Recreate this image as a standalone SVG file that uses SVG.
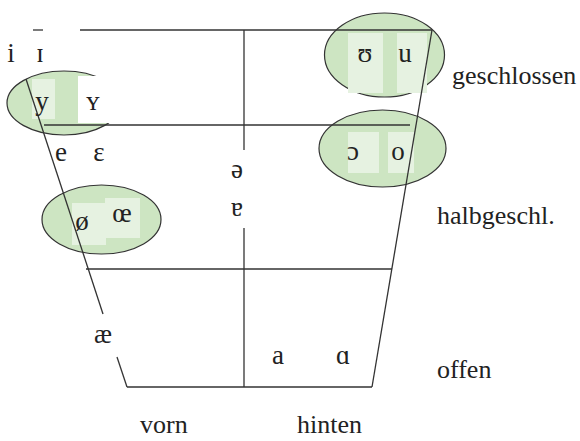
<svg xmlns="http://www.w3.org/2000/svg" width="580" height="441" viewBox="0 0 580 441">
<style>
.bg{fill:#ffffff}
.ell{fill:#cde5c2;stroke:#333333;stroke-width:1.2}
.sq{fill:#e6f2e1}
.ln{stroke:#333333;stroke-width:1.3;fill:none}
.t{font-family:"Liberation Serif","Times New Roman","DejaVu Serif",serif;font-size:26px;fill:#222222}
.ipa{font-family:"Liberation Serif","Times New Roman","DejaVu Serif",serif;font-size:27px;fill:#222222;text-anchor:middle}
</style>
<rect class="bg" x="0" y="0" width="580" height="441"/>
<g id="ellipse-y">
  <ellipse class="ell" cx="64" cy="103" rx="57" ry="32"/>
  <rect class="sq" x="32" y="79" width="23" height="40"/>
  <rect class="bg" x="78" y="76" width="50" height="47"/>
</g>
<g id="ellipse-u">
  <ellipse class="ell" cx="384.5" cy="55" rx="60" ry="42"/>
  <rect class="sq" x="348" y="33" width="35" height="60"/>
  <rect class="sq" x="397" y="33" width="30" height="60"/>
</g>
<g id="ellipse-o">
  <ellipse class="ell" cx="382.5" cy="148.5" rx="63.5" ry="38.5"/>
  <rect class="sq" x="348" y="132" width="31" height="41"/>
  <rect class="sq" x="388" y="132" width="26" height="41"/>
</g>
<g id="ellipse-oe">
  <ellipse class="ell" cx="101.5" cy="219.5" rx="59.5" ry="34.5"/>
  <rect class="sq" x="72" y="203" width="34" height="42"/>
  <rect class="sq" x="105" y="198" width="35" height="40"/>
</g>
<g id="connectors">
  <line class="ln" x1="33" y1="30" x2="43" y2="30"/>
  <line class="ln" x1="80" y1="30" x2="432" y2="30"/>
  <line class="ln" x1="44" y1="125" x2="410" y2="125"/>
  <line class="ln" x1="86" y1="269" x2="392" y2="269"/>
  <line class="ln" x1="127" y1="387" x2="372" y2="387"/>
  <line class="ln" x1="432" y1="30" x2="372" y2="387"/>
  <line class="ln" x1="26" y1="79" x2="103" y2="314"/>
  <line class="ln" x1="117" y1="357" x2="127" y2="387"/>
  <line class="ln" x1="244" y1="30" x2="244" y2="150"/>
  <line class="ln" x1="244" y1="228" x2="244" y2="387"/>
</g>
<g id="vowels">
  <text class="ipa" x="11" y="62">i</text>
  <text class="ipa" x="40" y="62">ɪ</text>
  <text class="ipa" x="42" y="110">y</text>
  <text class="ipa" x="93" y="110">ʏ</text>
  <text class="ipa" x="61" y="161">e</text>
  <text class="ipa" x="99" y="161">ɛ</text>
  <text class="ipa" x="237" y="178">ə</text>
  <text class="ipa" x="237" y="216">ɐ</text>
  <text class="ipa" x="82" y="230">ø</text>
  <text class="ipa" x="122" y="222">œ</text>
  <text class="ipa" x="365" y="62">ʊ</text>
  <text class="ipa" x="405" y="62">u</text>
  <text class="ipa" x="353" y="160">ɔ</text>
  <text class="ipa" x="398" y="160">o</text>
  <text class="ipa" x="103" y="343">æ</text>
  <text class="ipa" x="278" y="364">a</text>
  <text class="ipa" x="343" y="364">ɑ</text>
</g>
<g id="labels">
  <text class="t" x="452" y="84">geschlossen</text>
  <text class="t" x="437" y="224">halbgeschl.</text>
  <text class="t" x="437" y="378">offen</text>
  <text class="t" x="140" y="433">vorn</text>
  <text class="t" x="297" y="433">hinten</text>
</g>
</svg>
